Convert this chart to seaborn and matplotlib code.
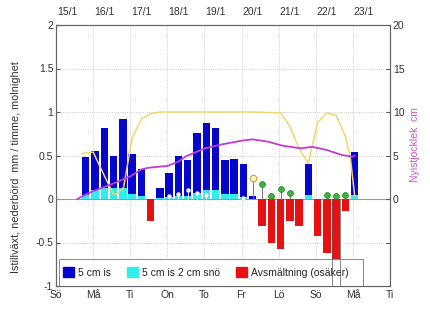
import numpy as np
import matplotlib
matplotlib.use("Agg")
import matplotlib.pyplot as plt
import seaborn as sns
from matplotlib.patches import Patch, Rectangle
import matplotlib.transforms as mtransforms

# ---------------- data ----------------
day_labels = ["Sö", "Må", "Ti", "On", "To", "Fr", "Lö", "Sö", "Må", "Ti"]
date_labels = ["15/1", "16/1", "17/1", "18/1", "19/1", "20/1", "21/1", "22/1", "23/1"]

# ice growth bars (time in days from Sunday 15/1 00:00)
ice_t = [0.80, 1.05, 1.30, 1.55, 1.80, 2.05, 2.30, 2.80, 3.05, 3.30, 3.55, 3.80,
         4.05, 4.30, 4.55, 4.80, 5.05, 5.30, 6.80, 8.05]
ice_5cm = [0.48, 0.555, 0.815, 0.50, 0.92, 0.52, 0.34, 0.13, 0.30, 0.50, 0.45, 0.755,
           0.877, 0.815, 0.45, 0.46, 0.40, 0.03, 0.40, 0.545]
ice_snow = [0.05, 0.10, 0.13, 0.13, 0.13, 0.06, 0.04, 0.01, 0.02, 0.03, 0.04, 0.065,
            0.10, 0.10, 0.055, 0.055, 0.02, 0.0, 0.05, 0.05]

# melting bars
melt_t = [2.55, 5.55, 5.80, 6.05, 6.30, 6.55, 7.05, 7.30, 7.55, 7.80]
melt = [-0.25, -0.31, -0.51, -0.57, -0.25, -0.31, -0.42, -0.62, -1.10, -0.14]

# precipitation stems
rain_t = [5.55, 5.80, 6.05, 6.30, 7.30, 7.55, 7.80]
rain = [0.17, 0.04, 0.115, 0.065, 0.045, 0.03, 0.045]
sleet_t = [5.30]
sleet = [0.24]
snow_t = [3.05, 3.30, 3.55, 3.80, 4.05, 5.05]
snow = [0.035, 0.06, 0.10, 0.065, 0.045, 0.01]

# cloudiness (0..1)
cloud_t = [0.70, 0.80, 1.00, 1.30, 1.55, 1.65, 1.82, 2.05, 2.30, 2.55, 2.80, 3.30, 4.30,
           5.30, 6.05, 6.30, 6.55, 6.80, 7.05, 7.30, 7.55, 7.80, 7.93, 8.05]
cloud = [0.52, 0.53, 0.54, 0.27, 0.05, 0.06, 0.13, 0.70, 0.92, 0.98, 1.0, 1.0, 1.0,
         1.0, 0.99, 0.84, 0.58, 0.41, 0.88, 0.99, 0.96, 0.72, 0.48, 0.03]

# new ice thickness, cm
thick_t = [0.57, 0.75, 1.00, 1.50, 2.00, 2.30, 2.50, 3.00, 3.30, 3.50, 4.00, 4.50,
           5.00, 5.30, 5.70, 6.10, 6.60, 6.90, 7.30, 7.70, 8.00, 8.05]
thick = [0.0, 0.4, 0.9, 1.7, 2.6, 3.4, 3.6, 3.8, 4.3, 4.9, 5.8, 6.3,
         6.7, 6.86, 6.6, 6.13, 5.82, 6.0, 5.63, 5.06, 4.86, 5.0]

# ---------------- style ----------------
sns.set_style("white")
plt.rcParams["font.family"] = ["Liberation Sans", "DejaVu Sans"]

BLUE = "#0505cc"
CYAN = "#30eeee"
RED = "#e81010"
YELLOW = "#f2d66a"
MAGENTA = "#c23cd2"
TXT = "#333333"
FS = 7.5

fig = plt.figure(figsize=(4.30, 3.22), dpi=100)
ax = fig.add_axes([56 / 430, 36 / 322, 334 / 430, 261 / 322])
ax2 = ax.twinx()

# grid & zero line
ax.set_xlim(0, 9)
ax.set_ylim(-1, 2)
ax.set_xticks(range(10))
ax.set_yticks([-1, -0.5, 0, 0.5, 1, 1.5, 2])
ax.grid(True, ls=":", lw=0.6, color="#bbbbbb")
ax.axhline(0, color="#999999", lw=0.8, zorder=1)

w = 0.2
ax.bar(ice_t, ice_5cm, width=w, color=BLUE, lw=0, zorder=2)
ax.bar(ice_t, ice_snow, width=w, color=CYAN, lw=0, zorder=2.1)
ax.bar(melt_t, melt, width=w, color=RED, lw=0, zorder=2)
# the outline of the deepest melt bar shows through the legend in the original
outline = ax.bar(melt_t, melt, width=w, facecolor="none", edgecolor="#555555",
                 lw=0.5, zorder=6)
for p in outline.patches:
    if p.get_height() > -0.9:
        p.set_visible(False)

# stems
ax.vlines(rain_t, 0, rain, color="#777777", lw=0.7, zorder=3)
sns.scatterplot(x=rain_t, y=rain, ax=ax, color="#3cb43c", edgecolor="#2a7a2a",
                s=18, linewidth=0.5, zorder=4)
ax.vlines(sleet_t, 0, sleet, color="#777777", lw=0.7, zorder=3)
sns.scatterplot(x=sleet_t, y=sleet, ax=ax, color="#fff8c8", edgecolor="#c8aa20",
                s=22, linewidth=0.8, zorder=4)
ax.vlines(snow_t, 0, snow, color="#ffffff", lw=0.6, zorder=3)
sns.scatterplot(x=snow_t, y=snow, ax=ax, color="#ffffff", edgecolor="#cccccc",
                s=8, linewidth=0.4, zorder=4)

sns.lineplot(x=cloud_t, y=cloud, ax=ax, color=YELLOW, lw=1.1, sort=False, zorder=5)

ax.set_xticklabels(day_labels, fontsize=FS, color=TXT)
ax.set_yticklabels(["-1", "-0.5", "0", "0.5", "1", "1.5", "2"], fontsize=FS, color=TXT)
ax.tick_params(axis="y", direction="in", length=3, color="#555555", pad=2)
ax.tick_params(axis="x", direction="in", length=3, color="#555555", pad=3)
ax.set_ylabel("Istillväxt, nederbörd  mm / timme, molnighet", fontsize=7.8, color=TXT)
ax.yaxis.set_label_coords(-0.105, 0.455)
ax.set_xlabel("")

trans = mtransforms.blended_transform_factory(ax.transData, ax.transAxes)
for i, lab in enumerate(date_labels):
    ax.text(i + 0.02, 1.05, lab, transform=trans, ha="left", va="center",
            fontsize=FS, color=TXT)

for s in ax.spines.values():
    s.set_color("#666666")
    s.set_linewidth(0.8)

# right axis: thickness
sns.lineplot(x=thick_t, y=thick, ax=ax2, color=MAGENTA, lw=1.3, sort=False, zorder=5)
ax2.set_ylim(-10, 20)
ax2.set_yticks([-10, -5, 0, 5, 10, 15, 20])
ax2.set_yticklabels(["", "", "0", "5", "10", "15", "20"], fontsize=FS, color=TXT)
ax2.tick_params(direction="in", length=3, color="#555555", pad=2)
ax2.set_ylabel("Nyistjocklek  cm", fontsize=FS, color="#cc55cc")
ax2.yaxis.set_label_coords(1.06, 0.54)
for s in ax2.spines.values():
    s.set_color("#666666")
    s.set_linewidth(0.8)

# legend with a fixed frame
ax.add_patch(Rectangle((0.009, 0.0), 0.91, 0.103, transform=ax.transAxes,
                       facecolor="white", edgecolor="#888888", lw=0.7, zorder=5.4))
handles = [Patch(color=BLUE), Patch(color=CYAN), Patch(color=RED)]
labels = ["5 cm is", "5 cm is 2 cm snö", "Avsmältning (osäker)"]
leg = ax.legend(handles, labels, loc="center left", bbox_to_anchor=(0.009, 0.0515),
                ncol=3, fontsize=FS, frameon=False,
                handlelength=1.05, handleheight=1.05, handletextpad=0.4,
                columnspacing=1.5, borderaxespad=0, borderpad=0.4)
leg.set_zorder(5.5)

fig.savefig("out.png", dpi=100, facecolor="white")
